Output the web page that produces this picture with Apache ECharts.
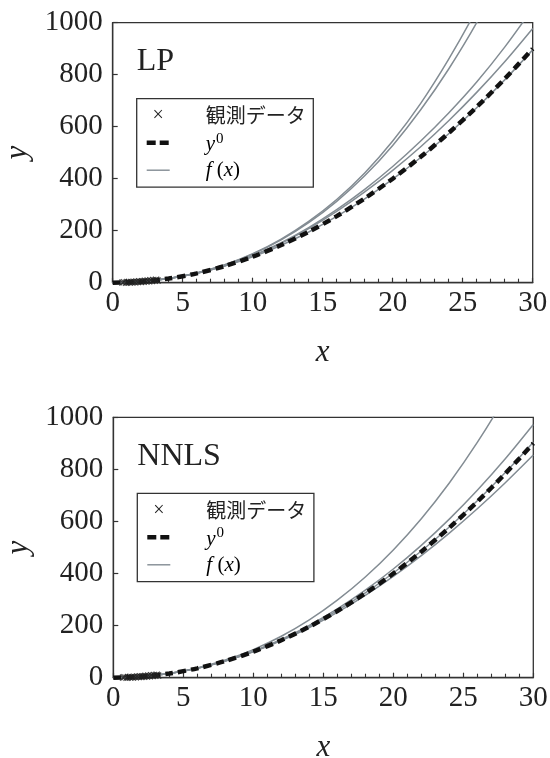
<!DOCTYPE html>
<html><head><meta charset="utf-8">
<script src="https://cdn.jsdelivr.net/npm/echarts@6/dist/echarts.min.js"></script>
<style>html,body{margin:0;padding:0;background:#fff}#c{width:550px;height:758px}</style>
</head><body><div id="c"></div>
<script>
// ---- data ----
const xGrid = [0,2,4,6,8,10,12,14,16,18,20,22,24,26,28,30];
const xTicks = [0,5,10,15,20,25,30];
const yTicks = [0,200,400,600,800,1000];
const obsX = [0.7,0.8,0.95,1.05,1.2,1.3,1.4,1.5,1.6,1.7,1.8,1.9,2.0,2.1,2.2,2.3,2.4,2.5,2.6,2.7,2.8,2.9,3.0,3.1,3.2];
const obsY = [0.5,2.1,0.2,2.5,0.9,3.1,1.2,3.4,1.8,4.4,2.6,5.2,3.1,6.0,3.9,7.1,4.6,8.2,5.3,9.5,6.2,10.4,7.6,11.8,8.3];
const y0 = [0,4,16,36,64,100,144,196,256,324,400,484,576,676,784,900];
// LP: f(x) curves
const lpA = [0,4.0,16.3,37.6,68.8,111.5,167,236,320,422,545,690,860,1052,1270,1525];
const lpB = [0,4.0,16.3,37.4,68.2,110,163.8,231,313,411,528,665,822,1000,1205,1440];
const lpC = [0,4.0,16.1,36.4,65.5,104,153,212,281,359,447,545,653,772,906,1055];
const lpD = [0,4.0,16.0,36.2,65,103,150.5,208,274,349,432,523,623,732,850,978];
const lpE = [0,4.0,15.9,35.8,63.7,99.5,143.3,195,254.7,322.4,398,481.6,573.1,672.6,780.1,895.5];
// NNLS: f(x) curves
const nnS = [0,4.0,16.3,37.3,67.7,108,159.2,222,297.6,386.8,490.8,610.8,747.9,903.4,1078.8,1275];
const nnU = [0,4.0,16.1,36.3,64.7,101.5,146.9,201,264,336,417.4,508.3,609,719.6,840.5,972];
const nnE = [0,4.0,16.1,36.2,64.3,100.5,144.7,197,257.3,325.6,402,486.4,578.9,679.4,787.9,904.5];
const nnL = [0,4.0,16.0,35.8,63.6,99,142.2,192.9,251,316.5,389.1,468.8,555.4,648.7,748.7,855];
const legendLabels = ['観測データ', 'y0', 'f(x)'];
const panelLabels = ['LP', 'NNLS'];

// ---- build ----
const pair = (ys) => xGrid.map((x, i) => [x, ys[i]]);
const obs = obsX.map((x, i) => [x, obsY[i]]);
const SERIF = 'Liberation Serif, Times New Roman, serif';
const GRAY = '#838c93';
const XMARK = 'path://M0,1.2L1.2,0L5,3.8L8.8,0L10,1.2L6.2,5L10,8.8L8.8,10L5,6.2L1.2,10L0,8.8L3.8,5Z';

const grids = [
  {left: 112.7, top: 22.7, width: 420, height: 260},
  {left: 113.3, top: 417.3, width: 420, height: 260.4}
];

function xAxis(gi) {
  return {
    gridIndex: gi, type: 'value', min: 0, max: 30, interval: 5,
    name: 'x', nameLocation: 'middle', nameGap: 55,
    nameTextStyle: {fontFamily: SERIF, fontStyle: 'italic', fontSize: 31, color: '#222'},
    axisLine: {show: true, lineStyle: {color: '#333', width: 1.3}},
    axisTick: {show: true, inside: true, length: 5, lineStyle: {color: '#333', width: 1.2}},
    minorTick: {show: true, splitNumber: 5, length: 4, lineStyle: {color: '#333', width: 1.1}},
    axisLabel: {fontFamily: SERIF, fontSize: 29, color: '#222', margin: 6, formatter: v => String(v),
      hideOverlap: false},
    splitLine: {show: false}
  };
}
function yAxis(gi) {
  return {
    gridIndex: gi, type: 'value', min: 0, max: 1000, interval: 200,
    name: 'y', nameLocation: 'middle', nameGap: 77, nameRotate: 90,
    nameTextStyle: {fontFamily: SERIF, fontStyle: 'italic', fontSize: 31, color: '#222'},
    axisLine: {show: true, lineStyle: {color: '#333', width: 1.3}},
    axisTick: {show: true, inside: true, length: 5, lineStyle: {color: '#333', width: 1.2}},
    axisLabel: {fontFamily: SERIF, fontSize: 29, color: '#222', margin: 10, formatter: v => String(v)},
    splitLine: {show: false}
  };
}
function fLine(gi, ys) {
  return {type: 'line', xAxisIndex: gi, yAxisIndex: gi, data: pair(ys), smooth: 0.3,
    showSymbol: false, lineStyle: {color: GRAY, width: 1.5}, z: 2, silent: true};
}
function panelSeries(gi, curves) {
  const s = curves.map(c => fLine(gi, c));
  s.push({type: 'line', xAxisIndex: gi, yAxisIndex: gi, data: pair(y0), smooth: 0.3, showSymbol: false,
    lineStyle: {color: '#111', width: 4.5, type: [8, 5]}, z: 3, silent: true});
  s.push({type: 'scatter', xAxisIndex: gi, yAxisIndex: gi, data: obs, symbol: XMARK, symbolSize: 7,
    itemStyle: {color: '#222'}, z: 4, silent: true});
  return s;
}
function legendGraphic(g) {
  const bx = g.left + 24, by = g.top + 76, bw = 176.6, bh = 88.4;
  const els = [];
  els.push({type: 'rect', shape: {x: bx, y: by, width: bw, height: bh},
    style: {fill: '#fff', stroke: '#333', lineWidth: 1.3}, z: 10});
  els.push({type: 'text', x: bx + 21.5, y: by + 17, style: {text: '×', font: '20px Liberation Serif, serif', fill: '#222',
    textAlign: 'center', textVerticalAlign: 'middle'}, z: 11});
  els.push({type: 'text', x: bx + 69, y: by + 17, style: {text: legendLabels[0], font: '20px Noto Sans CJK JP',
    fill: '#222', textVerticalAlign: 'middle'}, z: 11});
  els.push({type: 'line', shape: {x1: bx + 10, y1: by + 44, x2: bx + 32, y2: by + 44},
    style: {stroke: '#111', lineWidth: 4.5, lineDash: [9, 4]}, z: 11});
  els.push({type: 'text', x: bx + 69, y: by + 46, style: {
    text: '{i|y}{s|0}', textVerticalAlign: 'middle',
    rich: {i: {fontFamily: SERIF, fontStyle: 'italic', fontSize: 21, color: '#555'},
           s: {fontFamily: SERIF, fontSize: 15, color: '#555', verticalAlign: 'top', padding: [0, 0, 12, 1]}}}, z: 11});
  els.push({type: 'line', shape: {x1: bx + 10, y1: by + 71.5, x2: bx + 33, y2: by + 71.5},
    style: {stroke: GRAY, lineWidth: 1.4}, z: 11});
  els.push({type: 'text', x: bx + 69, y: by + 72, style: {
    text: '{i|f}{r| (}{i|x}{r|)}', textVerticalAlign: 'middle',
    rich: {i: {fontFamily: SERIF, fontStyle: 'italic', fontSize: 21, color: '#555'},
           r: {fontFamily: SERIF, fontSize: 21, color: '#555'}}}, z: 11});
  return els;
}

const graphics = [];
grids.forEach((g, i) => {
  graphics.push(...legendGraphic(g));
  graphics.push({type: 'text', x: g.left + 24, y: g.top + 39, style: {text: panelLabels[i],
    font: '32px Liberation Serif, serif', fill: '#222', textVerticalAlign: 'middle'}, z: 11});
});

const option = {
  animation: false,
  grid: grids.map(g => Object.assign({show: true, borderColor: '#333', borderWidth: 1.3,
    backgroundColor: 'transparent', containLabel: false, outerBoundsMode: 'none'}, g)),
  xAxis: [xAxis(0), xAxis(1)],
  yAxis: [yAxis(0), yAxis(1)],
  series: [...panelSeries(0, [lpA, lpB, lpC, lpD, lpE]), ...panelSeries(1, [nnS, nnU, nnE, nnL])],
  graphic: graphics
};
echarts.init(document.getElementById('c'), null, {renderer: 'canvas'}).setOption(option);
</script></body></html>
